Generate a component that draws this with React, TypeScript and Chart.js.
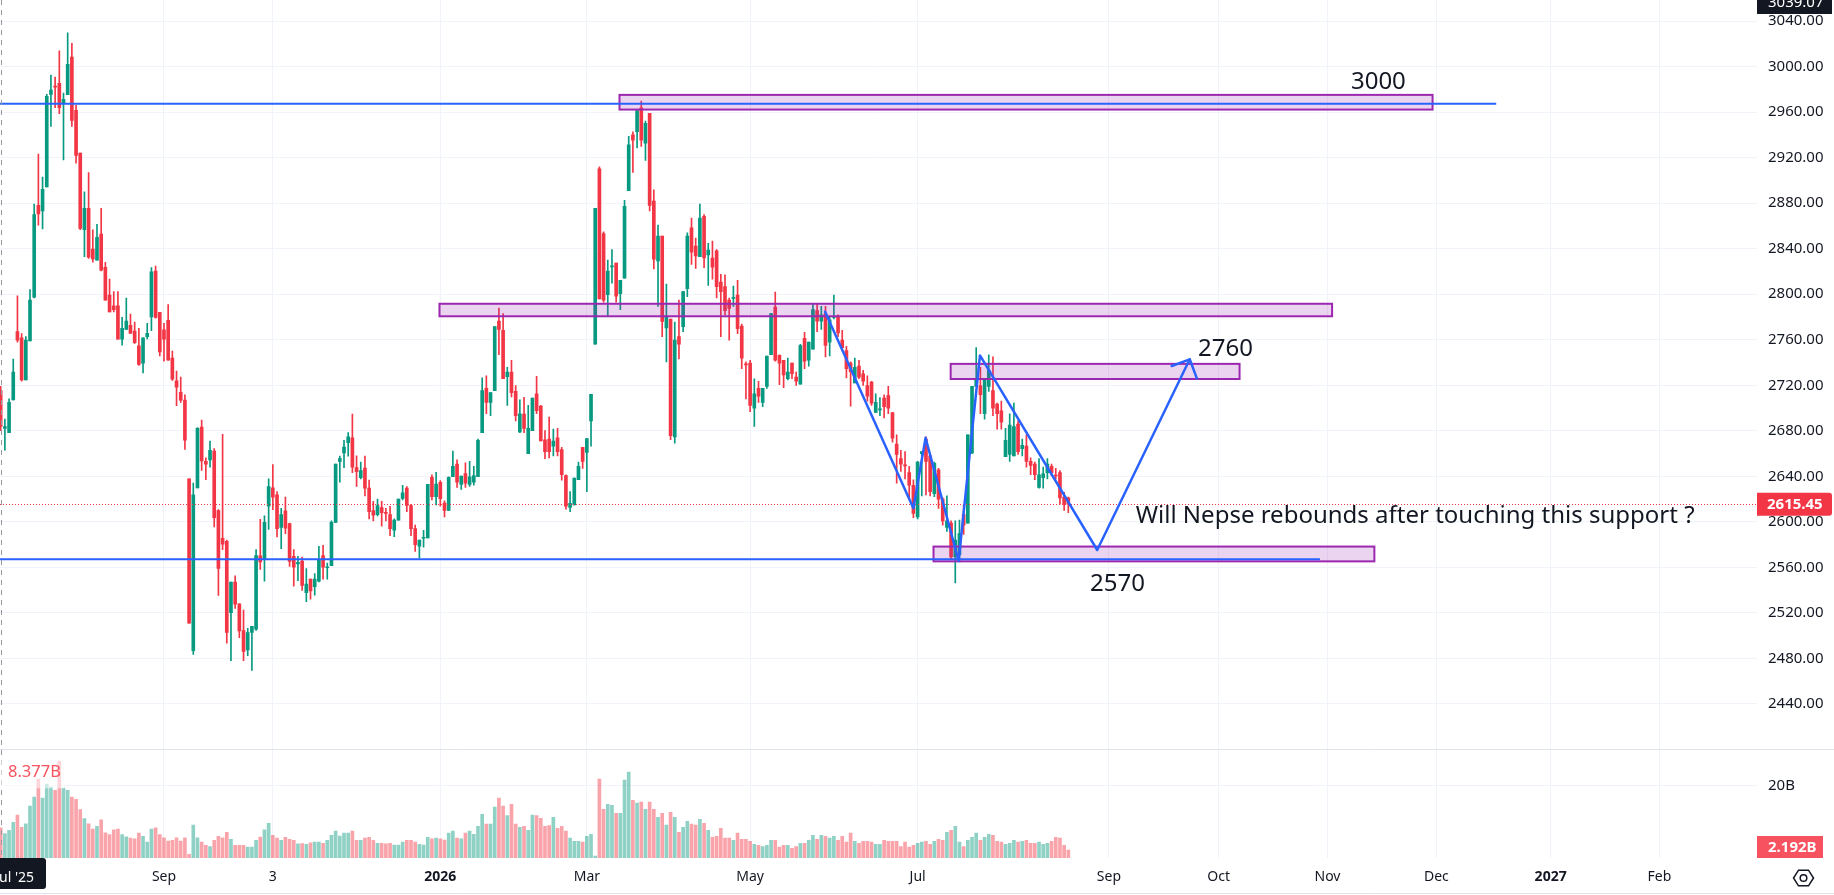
import React, { useEffect, useRef } from 'react';
import { Chart, registerables } from 'chart.js';

Chart.register(...registerables);

// ---- Daily candles (NEPSE) ----
const opens = [
  2715.3, 2682.1, 2678.4, 2707.2, 2767.1, 2761.6, 2724.6, 2759.0, 2797.4, 2878.0,
  2873.2, 2894.3, 2975.6, 2982.7, 2985.2, 2967.5, 2975.3, 3008.2, 2961.6, 2923.9,
  2856.6, 2875.4, 2839.6, 2830.0, 2852.9, 2823.7, 2799.3, 2789.7, 2789.7, 2760.5,
  2769.0, 2772.7, 2767.5, 2754.6, 2739.4, 2762.7, 2780.1, 2820.4, 2784.1, 2768.6,
  2777.1, 2743.8, 2723.9, 2713.9, 2706.9, 2637.7, 2486.9, 2629.9, 2683.2, 2653.2,
  2654.4, 2662.1, 2610.0, 2585.6, 2583.0, 2520.2, 2547.2, 2527.9, 2504.6, 2487.6,
  2502.8, 2505.7, 2570.1, 2566.7, 2613.7, 2629.9, 2623.7, 2595.2, 2609.6, 2598.5,
  2569.7, 2563.0, 2565.6, 2537.9, 2549.7, 2543.1, 2547.9, 2570.4, 2559.7, 2561.6,
  2599.6, 2653.2, 2660.6, 2669.5, 2673.9, 2647.7, 2638.8, 2647.3, 2629.6, 2610.0,
  2606.3, 2612.6, 2608.1, 2606.3, 2592.6, 2601.5, 2620.7, 2629.6, 2614.4, 2594.1,
  2578.6, 2585.6, 2585.9, 2639.2, 2622.2, 2634.8, 2616.6, 2610.0, 2639.6, 2650.7,
  2632.9, 2642.5, 2632.9, 2634.8, 2639.6, 2678.4, 2717.2, 2705.0, 2715.3, 2776.4,
  2768.2, 2727.6, 2731.6, 2714.6, 2679.1, 2694.7, 2659.9, 2680.2, 2712.4, 2701.7,
  2672.1, 2672.8, 2666.6, 2673.9, 2663.6, 2640.7, 2612.6, 2614.8, 2637.0, 2665.4,
  2661.0, 2688.7, 2756.0, 2910.2, 2853.2, 2799.6, 2824.0, 2827.4, 2800.4, 2814.0,
  2891.0, 2940.1, 2942.7, 2963.8, 2932.7, 2959.0, 2881.7, 2829.2, 2851.0, 2770.4,
  2778.2, 2674.7, 2762.7, 2771.5, 2804.8, 2858.4, 2842.2, 2832.9, 2868.4, 2834.4,
  2831.8, 2838.1, 2810.7, 2806.7, 2794.8, 2796.3, 2799.3, 2771.9, 2738.6, 2739.4,
  2699.8, 2717.2, 2705.0, 2719.0, 2746.8, 2788.6, 2746.4, 2742.0, 2725.7, 2739.4,
  2727.2, 2720.9, 2761.2, 2742.0, 2751.6, 2785.6, 2776.4, 2783.0, 2757.9, 2779.7,
  2780.1, 2759.7, 2750.5, 2739.4, 2722.0, 2736.8, 2730.1, 2719.8, 2722.8, 2696.1,
  2698.4, 2708.7, 2710.9, 2696.1, 2668.4, 2655.5, 2649.9, 2643.3, 2632.2, 2604.4,
  2659.9, 2672.8, 2658.0, 2624.8, 2645.8, 2620.0, 2595.2, 2598.9, 2569.3, 2571.2,
  2606.3, 2598.9, 2660.6, 2719.0, 2719.8, 2695.0, 2719.0, 2715.3, 2703.5, 2697.6,
  2657.3, 2659.2, 2658.0, 2685.8, 2664.3, 2666.6, 2653.2, 2650.7, 2630.3, 2638.8,
  2643.3, 2648.8, 2641.0, 2643.3, 2621.8, 2621.1,
];
const highs = [
  2719.0, 2690.2, 2708.0, 2743.1, 2798.5, 2765.3, 2762.7, 2804.1, 2879.1, 2923.1,
  2902.8, 2975.6, 2992.6, 2990.8, 3013.7, 2976.7, 3029.6, 3020.4, 2966.0, 2923.9,
  2889.9, 2906.9, 2856.6, 2861.4, 2875.4, 2828.1, 2813.3, 2802.2, 2802.2, 2779.7,
  2796.7, 2782.6, 2775.6, 2770.1, 2761.6, 2774.5, 2823.3, 2824.8, 2784.1, 2774.5,
  2790.8, 2750.1, 2732.4, 2727.2, 2711.7, 2637.7, 2634.0, 2682.8, 2689.5, 2656.2,
  2671.0, 2664.3, 2610.7, 2676.9, 2584.1, 2547.2, 2552.7, 2527.9, 2522.4, 2506.5,
  2508.3, 2575.6, 2602.2, 2605.2, 2637.7, 2650.3, 2626.6, 2611.8, 2621.8, 2598.9,
  2575.6, 2569.7, 2569.0, 2559.0, 2549.7, 2554.5, 2578.6, 2579.3, 2563.8, 2600.8,
  2650.7, 2657.7, 2671.7, 2678.4, 2694.7, 2658.0, 2652.5, 2657.7, 2636.6, 2618.1,
  2620.0, 2618.1, 2611.8, 2613.7, 2602.6, 2620.0, 2632.2, 2631.1, 2615.5, 2597.1,
  2584.1, 2592.6, 2632.9, 2641.4, 2643.6, 2636.3, 2618.5, 2639.6, 2662.1, 2654.4,
  2640.3, 2651.8, 2653.2, 2648.8, 2672.8, 2726.5, 2728.3, 2713.5, 2771.5, 2787.8,
  2783.0, 2735.7, 2742.0, 2719.8, 2707.2, 2709.4, 2702.4, 2708.7, 2727.9, 2702.4,
  2680.2, 2692.1, 2681.4, 2682.1, 2665.4, 2641.4, 2626.6, 2638.5, 2652.5, 2665.4,
  2673.2, 2712.0, 2875.4, 2912.0, 2854.7, 2830.0, 2839.2, 2827.4, 2812.2, 2882.4,
  2938.6, 2942.7, 2961.2, 2969.7, 2952.0, 2959.0, 2891.7, 2860.7, 2851.0, 2808.9,
  2778.2, 2775.6, 2794.8, 2802.2, 2854.0, 2866.9, 2849.2, 2879.1, 2869.9, 2844.7,
  2846.6, 2839.2, 2817.4, 2817.0, 2796.7, 2807.1, 2812.2, 2773.8, 2740.5, 2742.0,
  2725.7, 2723.5, 2717.2, 2745.7, 2783.0, 2801.9, 2746.8, 2742.0, 2743.8, 2739.4,
  2731.6, 2756.0, 2766.4, 2757.9, 2791.1, 2791.1, 2789.3, 2789.3, 2780.1, 2799.3,
  2781.9, 2768.2, 2754.2, 2740.5, 2743.8, 2742.0, 2733.1, 2728.3, 2723.5, 2712.4,
  2709.1, 2711.7, 2719.0, 2696.1, 2676.5, 2662.9, 2661.7, 2648.8, 2637.0, 2653.2,
  2661.7, 2674.7, 2659.9, 2652.5, 2647.0, 2621.1, 2622.9, 2600.8, 2600.8, 2601.5,
  2614.8, 2676.5, 2719.0, 2753.1, 2735.7, 2725.7, 2746.8, 2744.9, 2704.3, 2706.1,
  2682.1, 2695.0, 2704.3, 2688.7, 2672.8, 2676.5, 2656.2, 2652.5, 2655.5, 2648.1,
  2655.5, 2650.7, 2647.0, 2645.1, 2625.9, 2621.8,
];
const lows = [
  2680.2, 2662.9, 2678.4, 2707.2, 2757.9, 2723.5, 2724.6, 2759.0, 2796.7, 2860.7,
  2857.3, 2894.3, 2947.5, 2963.8, 2958.6, 2917.9, 2975.3, 2947.5, 2915.0, 2856.6,
  2832.9, 2831.5, 2828.1, 2830.0, 2820.4, 2794.8, 2784.5, 2784.5, 2760.5, 2755.3,
  2769.0, 2765.6, 2756.8, 2737.5, 2730.9, 2760.8, 2767.9, 2779.0, 2745.7, 2741.2,
  2742.0, 2724.2, 2702.1, 2705.0, 2663.6, 2510.9, 2483.6, 2629.9, 2645.1, 2637.0,
  2648.1, 2595.6, 2535.3, 2575.6, 2493.5, 2478.0, 2523.9, 2498.3, 2478.0, 2482.4,
  2469.5, 2504.6, 2558.2, 2547.9, 2593.4, 2610.7, 2586.7, 2576.4, 2589.7, 2560.8,
  2543.4, 2548.3, 2539.7, 2529.8, 2532.0, 2535.7, 2547.2, 2549.7, 2549.7, 2561.6,
  2599.6, 2634.8, 2647.7, 2657.7, 2643.3, 2631.1, 2637.7, 2622.9, 2602.6, 2600.8,
  2605.2, 2596.3, 2600.8, 2587.8, 2587.1, 2601.5, 2619.2, 2608.9, 2587.8, 2574.1,
  2568.2, 2577.8, 2585.9, 2619.2, 2614.8, 2613.7, 2604.4, 2610.0, 2639.6, 2630.3,
  2628.5, 2630.3, 2631.1, 2632.2, 2639.6, 2678.4, 2695.0, 2693.2, 2715.3, 2746.8,
  2725.7, 2702.4, 2709.8, 2688.7, 2678.4, 2678.4, 2659.9, 2680.2, 2695.0, 2671.0,
  2655.5, 2656.2, 2658.0, 2658.0, 2636.6, 2611.1, 2608.9, 2614.8, 2637.0, 2647.0,
  2626.6, 2666.6, 2756.0, 2795.9, 2793.0, 2781.2, 2809.6, 2793.0, 2786.4, 2814.0,
  2891.0, 2906.9, 2928.6, 2929.8, 2917.6, 2873.2, 2822.2, 2789.3, 2762.7, 2740.5,
  2672.1, 2669.1, 2743.1, 2767.1, 2797.8, 2826.2, 2822.6, 2832.9, 2823.3, 2807.8,
  2813.3, 2796.7, 2762.7, 2781.9, 2759.7, 2789.3, 2765.3, 2734.6, 2708.0, 2696.9,
  2683.9, 2705.0, 2701.3, 2717.2, 2746.8, 2741.2, 2720.5, 2717.9, 2724.6, 2725.7,
  2719.8, 2720.9, 2734.6, 2736.8, 2751.6, 2767.1, 2769.0, 2744.9, 2745.7, 2778.2,
  2762.7, 2752.3, 2726.5, 2701.7, 2722.0, 2725.7, 2719.8, 2706.1, 2702.4, 2696.1,
  2693.2, 2691.3, 2695.0, 2669.9, 2634.0, 2644.4, 2637.7, 2621.1, 2603.7, 2602.6,
  2622.9, 2623.7, 2622.9, 2622.2, 2611.8, 2597.1, 2591.5, 2566.7, 2546.4, 2564.9,
  2588.9, 2598.9, 2659.9, 2719.0, 2695.0, 2690.2, 2714.6, 2693.2, 2681.4, 2681.4,
  2657.3, 2653.2, 2658.0, 2659.2, 2658.0, 2648.1, 2641.4, 2637.0, 2629.6, 2629.6,
  2637.7, 2640.7, 2637.7, 2615.5, 2610.0, 2608.1,
];
const closes = [
  2683.9, 2683.6, 2705.0, 2731.6, 2759.7, 2724.6, 2759.7, 2794.8, 2869.9, 2870.6,
  2892.1, 2973.8, 2979.3, 2981.9, 2963.8, 2971.2, 3001.9, 2952.7, 2922.0, 2857.7,
  2875.4, 2832.6, 2831.1, 2849.9, 2821.1, 2794.8, 2784.5, 2786.4, 2760.5, 2770.1,
  2776.4, 2765.6, 2757.5, 2738.3, 2761.6, 2765.6, 2819.6, 2779.7, 2749.4, 2760.5,
  2742.0, 2725.4, 2718.3, 2706.9, 2671.7, 2510.9, 2623.7, 2682.1, 2653.6, 2650.7,
  2662.9, 2603.7, 2559.0, 2580.4, 2502.8, 2547.2, 2527.6, 2504.3, 2486.2, 2502.8,
  2508.3, 2570.4, 2564.9, 2599.6, 2631.1, 2621.8, 2594.1, 2606.3, 2594.5, 2565.3,
  2560.1, 2564.5, 2544.2, 2545.3, 2539.4, 2549.7, 2566.4, 2560.1, 2560.4, 2599.6,
  2650.7, 2655.5, 2665.8, 2674.7, 2648.1, 2644.0, 2645.1, 2629.6, 2608.9, 2605.9,
  2614.4, 2608.1, 2607.4, 2594.1, 2601.5, 2620.0, 2625.5, 2614.4, 2594.1, 2580.0,
  2584.1, 2586.3, 2632.9, 2622.2, 2633.3, 2620.4, 2610.0, 2639.2, 2648.8, 2634.8,
  2640.3, 2634.0, 2639.6, 2640.7, 2671.7, 2715.3, 2705.0, 2713.5, 2771.5, 2769.0,
  2725.7, 2731.6, 2713.5, 2693.2, 2695.0, 2682.1, 2682.1, 2708.7, 2697.6, 2671.0,
  2661.7, 2661.7, 2671.0, 2661.7, 2641.4, 2613.7, 2616.3, 2638.5, 2648.8, 2653.2,
  2673.2, 2712.0, 2875.4, 2795.9, 2794.8, 2820.4, 2824.8, 2798.2, 2812.2, 2877.3,
  2931.2, 2935.3, 2961.2, 2935.3, 2950.1, 2878.0, 2830.7, 2851.0, 2776.0, 2780.8,
  2675.8, 2759.7, 2756.0, 2802.2, 2851.0, 2837.0, 2833.7, 2866.9, 2831.8, 2838.8,
  2823.7, 2806.7, 2802.2, 2785.6, 2787.4, 2797.0, 2769.7, 2743.8, 2737.9, 2702.4,
  2712.4, 2710.5, 2717.2, 2745.7, 2783.0, 2742.0, 2739.4, 2729.0, 2731.6, 2730.1,
  2723.5, 2754.9, 2741.2, 2757.9, 2786.4, 2776.4, 2781.9, 2754.9, 2777.5, 2780.4,
  2766.0, 2753.1, 2734.6, 2732.0, 2735.7, 2727.2, 2723.5, 2710.5, 2704.3, 2705.0,
  2699.1, 2701.3, 2699.8, 2673.6, 2659.2, 2650.7, 2649.2, 2632.2, 2607.4, 2652.5,
  2661.7, 2653.2, 2626.6, 2651.4, 2620.0, 2600.8, 2600.8, 2569.3, 2584.1, 2589.6,
  2597.1, 2676.5, 2719.0, 2724.6, 2711.7, 2725.7, 2733.1, 2699.8, 2695.0, 2687.6,
  2671.7, 2685.0, 2683.6, 2661.7, 2667.3, 2653.2, 2649.6, 2641.4, 2641.4, 2642.1,
  2650.7, 2643.3, 2640.3, 2621.1, 2615.5, 2615.45,
];
// Volume in billions
const volumes = [
  8.377, 6.8, 7.7, 9.9, 11.9, 8.5, 9.5, 14.4, 16.9, 21.9,
  16.6, 20.5, 19.7, 18.8, 26.9, 19.4, 18.8, 16.9, 16.3, 13.4,
  10.9, 9.5, 8.0, 8.8, 10.6, 7.0, 6.5, 7.8, 8.0, 6.5,
  5.9, 5.5, 5.3, 6.9, 6.0, 4.4, 8.0, 8.4, 6.5, 5.6,
  4.7, 4.9, 5.6, 4.7, 5.6, 1.0, 9.1, 5.6, 4.4, 3.5,
  3.2, 4.9, 6.0, 5.6, 7.1, 5.2, 3.5, 3.5, 3.5, 3.0,
  3.0, 4.9, 5.8, 7.8, 9.6, 6.3, 5.5, 4.9, 5.7, 5.2,
  4.9, 3.9, 4.0, 3.8, 4.2, 4.4, 4.4, 4.1, 4.9, 6.3,
  7.5, 6.1, 6.9, 6.9, 7.5, 4.9, 4.9, 5.5, 5.7, 4.9,
  4.1, 4.1, 3.9, 4.1, 3.6, 3.6, 4.4, 4.9, 4.9, 4.4,
  3.8, 3.6, 5.7, 5.3, 5.5, 5.3, 5.0, 6.9, 7.5, 5.5,
  5.3, 6.9, 7.5, 6.6, 8.8, 12.1, 9.4, 9.4, 14.1, 16.6,
  14.4, 11.8, 14.9, 9.4, 8.5, 8.8, 7.7, 11.9, 11.8, 11.0,
  8.8, 9.0, 11.3, 8.2, 8.8, 7.5, 5.5, 4.6, 4.6, 4.4,
  6.0, 6.6, 0.5, 21.9, 13.5, 14.9, 14.6, 12.4, 12.4, 21.6,
  23.8, 16.0, 15.2, 15.5, 13.5, 15.5, 13.5, 11.3, 12.4, 9.1,
  12.7, 11.3, 7.1, 8.5, 10.2, 9.4, 9.1, 10.7, 9.6, 7.7,
  5.7, 6.0, 8.2, 5.5, 5.5, 4.9, 6.9, 5.2, 5.2, 4.6,
  3.8, 3.5, 3.2, 3.5, 4.9, 4.9, 3.0, 3.5, 3.5, 2.7,
  3.2, 4.1, 4.1, 4.9, 6.3, 5.2, 6.3, 6.0, 5.5, 6.0,
  4.9, 6.0, 4.4, 6.9, 4.6, 4.1, 4.6, 4.6, 4.4, 3.8,
  3.8, 4.9, 4.6, 4.6, 4.6, 3.2, 4.4, 3.0, 3.5, 4.1,
  4.4, 4.6, 3.8, 4.6, 5.2, 4.9, 7.1, 7.7, 8.8, 4.4,
  3.2, 4.9, 5.7, 6.9, 4.9, 5.7, 6.6, 6.3, 4.6, 4.4,
  3.8, 4.1, 4.9, 4.4, 4.6, 4.9, 4.1, 4.1, 4.4, 3.8,
  4.1, 4.6, 5.7, 5.5, 3.5, 2.192,
];

// ---- Axis ticks ----
const priceTicks = [2440, 2480, 2520, 2560, 2600, 2640, 2680, 2720, 2760, 2800, 2840, 2880, 2920, 2960, 3000, 3040];
const volumeTicks = [20];
const timeTickBars = [39, 65, 105, 140, 179, 219, 264.7, 290.9, 316.9, 342.9, 370.2, 396.2];
const timeTickLabels = ['Sep', '3', '2026', 'Mar', 'May', 'Jul', 'Sep', 'Oct', 'Nov', 'Dec', '2027', 'Feb'];
const boldTimeLabels = ['2026', '2027'];

// ---- Drawings (bar index, price) ----
const hLinePrices = [2967.3, 2567.1];
const hLineEnds = [357.2, 315.1];
const boxLeft = [147.8, 104.8, 226.9, 222.8];
const boxRight = [342.0, 318.0, 295.9, 328.1];
const boxTop = [2975.1, 2791.6, 2738.8, 2578.3];
const boxBottom = [2962.2, 2780.6, 2725.5, 2565.3];
const zigBars = [196.9, 218.0, 220.9, 228.8, 233.9, 261.9, 284.0];
const zigPrices = [2784.6, 2612.0, 2673.8, 2565.8, 2746.2, 2575.3, 2742.8];
const arrowWingBars = [279.7, 285.7];
const arrowWingPrices = [2736.9, 2726.1];
const noteTexts = ['3000', '2760', '2570', 'Will Nepse rebounds after touching this support ?'];
const noteBars = [322.5, 286.0, 260.2, 271.1];
const notePrices = [2980.3, 2745.7, 2539.5, 2599.0];

const lastPrice = closes[closes.length - 1];
const lastVolume = volumes[volumes.length - 1];

const FONT = '"Noto Sans", "DejaVu Sans", sans-serif';
const UP = '#089981';
const DOWN = '#f23645';
const UP_VOL = 'rgba(8,153,129,0.45)';
const DOWN_VOL = 'rgba(242,54,69,0.45)';
const GRID = '#f0f3fa';
const TEXT = '#131722';
const BLUE = '#2962ff';
const PURPLE = '#9c27b0';

const W = 1834;
const H = 895;
const AXIS_W = 77;
const TIME_H = 37;

const isUp = (i: number) => closes[i] >= opens[i];

const zeroPadding = (s: any) => {
  s.paddingTop = 0;
  s.paddingBottom = 0;
  s.paddingLeft = 0;
  s.paddingRight = 0;
};

const overlayPlugin = {
  id: 'tvOverlay',
  beforeDraw(chart: any) {
    const { ctx } = chart;
    ctx.save();
    ctx.fillStyle = '#ffffff';
    ctx.fillRect(0, 0, chart.width, chart.height);
    ctx.restore();
  },
  afterDatasetsDraw(chart: any) {
    const { ctx, chartArea } = chart;
    const xs = chart.scales.x;
    const ys = chart.scales.y;
    const X = (v: number) => xs.getPixelForValue(v);
    const Y = (v: number) => ys.getPixelForValue(v);
    ctx.save();
    ctx.beginPath();
    ctx.rect(chartArea.left, ys.top, chartArea.right - chartArea.left, ys.bottom - ys.top);
    ctx.clip();

    // rectangles
    for (let i = 0; i < boxLeft.length; i++) {
      const x1 = X(boxLeft[i]);
      const x2 = X(boxRight[i]);
      const y1 = Y(boxTop[i]);
      const y2 = Y(boxBottom[i]);
      ctx.fillStyle = 'rgba(156,39,176,0.2)';
      ctx.fillRect(x1, y1, x2 - x1, y2 - y1);
      ctx.strokeStyle = PURPLE;
      ctx.lineWidth = 2;
      ctx.strokeRect(x1, y1, x2 - x1, y2 - y1);
    }

    // horizontal levels
    ctx.strokeStyle = BLUE;
    ctx.lineWidth = 2;
    for (let i = 0; i < hLinePrices.length; i++) {
      const y = Y(hLinePrices[i]);
      ctx.beginPath();
      ctx.moveTo(chartArea.left - 2, y);
      ctx.lineTo(X(hLineEnds[i]), y);
      ctx.stroke();
    }

    // last price dotted line
    const ly = Math.round(Y(lastPrice)) + 0.5;
    ctx.save();
    ctx.strokeStyle = DOWN;
    ctx.lineWidth = 1;
    ctx.setLineDash([1, 2]);
    ctx.beginPath();
    ctx.moveTo(chartArea.left, ly);
    ctx.lineTo(chartArea.right, ly);
    ctx.stroke();
    ctx.restore();

    // zigzag path
    ctx.strokeStyle = BLUE;
    ctx.lineWidth = 2.5;
    ctx.lineJoin = 'round';
    ctx.lineCap = 'round';
    ctx.beginPath();
    for (let i = 0; i < zigBars.length; i++) {
      const px = X(zigBars[i]);
      const py = Y(zigPrices[i]);
      if (i === 0) ctx.moveTo(px, py);
      else ctx.lineTo(px, py);
    }
    ctx.stroke();
    const tipX = X(zigBars[zigBars.length - 1]);
    const tipY = Y(zigPrices[zigPrices.length - 1]);
    ctx.beginPath();
    ctx.moveTo(X(arrowWingBars[0]), Y(arrowWingPrices[0]));
    ctx.lineTo(tipX, tipY);
    ctx.lineTo(X(arrowWingBars[1]), Y(arrowWingPrices[1]));
    ctx.stroke();

    // notes
    ctx.fillStyle = TEXT;
    ctx.textAlign = 'left';
    ctx.textBaseline = 'alphabetic';
    ctx.font = `24px ${FONT}`;
    for (let i = 0; i < noteTexts.length; i++) {
      ctx.fillText(noteTexts[i], X(noteBars[i]), Y(notePrices[i]));
    }
    ctx.restore();
  },
  afterDraw(chart: any) {
    const { ctx, chartArea } = chart;
    const xs = chart.scales.x;
    const ys = chart.scales.y;
    const yv = chart.scales.yv;
    ctx.save();

    // pane divider and bottom edge
    ctx.strokeStyle = '#e0e3eb';
    ctx.lineWidth = 1;
    ctx.beginPath();
    ctx.moveTo(0, Math.round(ys.bottom) + 0.5);
    ctx.lineTo(chart.width, Math.round(ys.bottom) + 0.5);
    ctx.stroke();
    ctx.beginPath();
    ctx.moveTo(0, chart.height - 1.5);
    ctx.lineTo(chart.width, chart.height - 1.5);
    ctx.stroke();

    // crosshair
    const cx = Math.round(xs.getPixelForValue(0)) + 0.5;
    ctx.save();
    ctx.strokeStyle = '#9598a1';
    ctx.setLineDash([5, 5]);
    ctx.beginPath();
    ctx.moveTo(cx, 0);
    ctx.lineTo(cx, chartArea.bottom);
    ctx.stroke();
    ctx.restore();

    // volume legend value
    ctx.fillStyle = 'rgba(255,255,255,0.55)';
    ctx.fillRect(0, yv.top + 8, 64, 31);
    ctx.fillStyle = '#f7525f';
    ctx.font = `16.5px ${FONT}`;
    ctx.textAlign = 'left';
    ctx.textBaseline = 'middle';
    ctx.fillText(`${volumes[0].toFixed(3)}B`, 8, yv.top + 23);

    const axX = chartArea.right;
    // top crosshair price label
    ctx.fillStyle = TEXT;
    ctx.fillRect(axX, -8, 75, 22);
    ctx.fillStyle = '#ffffff';
    ctx.font = `15px ${FONT}`;
    ctx.textAlign = 'left';
    ctx.textBaseline = 'middle';
    ctx.fillText('3039.07', axX + 11, 3);

    // last price label
    const lpY = ys.getPixelForValue(lastPrice);
    ctx.fillStyle = DOWN;
    ctx.beginPath();
    ctx.roundRect(axX, lpY - 11.5, 75, 23, [0, 3, 3, 0]);
    ctx.fill();
    ctx.fillStyle = '#ffffff';
    ctx.font = `bold 15px ${FONT}`;
    ctx.fillText(lastPrice.toFixed(2), axX + 10, lpY + 0.5);

    // last volume label
    const lvY = Math.min(yv.getPixelForValue(lastVolume), yv.bottom - 11);
    ctx.fillStyle = '#f7525f';
    ctx.fillRect(axX, lvY - 11, 66, 22);
    ctx.fillStyle = '#ffffff';
    ctx.font = `bold 15px ${FONT}`;
    ctx.fillText(`${lastVolume.toFixed(3)}B`, axX + 11, lvY + 0.5);

    // crosshair time label
    ctx.fillStyle = TEXT;
    ctx.beginPath();
    ctx.roundRect(-17, chartArea.bottom, 63, 31, 3);
    ctx.fill();
    ctx.fillStyle = '#ffffff';
    ctx.font = `14px ${FONT}`;
    ctx.textAlign = 'center';
    ctx.fillText("Jul '25", 14.6, chartArea.bottom + 20);

    // settings icon
    const ix = 1803.5;
    const iy = 878;
    ctx.strokeStyle = TEXT;
    ctx.lineWidth = 1.5;
    ctx.beginPath();
    for (let k = 0; k < 6; k++) {
      const a = (Math.PI / 3) * k;
      const px = ix + 10 * Math.cos(a);
      const py = iy + 9 * Math.sin(a);
      if (k === 0) ctx.moveTo(px, py);
      else ctx.lineTo(px, py);
    }
    ctx.closePath();
    ctx.stroke();
    ctx.beginPath();
    ctx.arc(ix, iy, 3.3, 0, Math.PI * 2);
    ctx.stroke();

    ctx.restore();
  },
};

export default function App() {
  const canvasRef = useRef<HTMLCanvasElement | null>(null);

  useEffect(() => {
    const canvas = canvasRef.current;
    if (!canvas) return;
    const idx = closes.map((_, i) => i);

    const chart = new Chart(canvas, {
      type: 'bar',
      data: {
        datasets: [
          {
            label: 'bodies',
            data: idx.map((i) => ({ x: i, y: [opens[i], closes[i]] })) as any,
            backgroundColor: (c: any) => (isUp(c.dataIndex) ? UP : DOWN),
            barThickness: 3,
            minBarLength: 1,
            grouped: false,
            borderWidth: 0,
            borderSkipped: false,
            xAxisID: 'x',
            yAxisID: 'y',
            order: 0,
          } as any,
          {
            label: 'wicks',
            data: idx.map((i) => ({ x: i, y: [lows[i], highs[i]] })) as any,
            backgroundColor: (c: any) => (isUp(c.dataIndex) ? UP : DOWN),
            barThickness: 1,
            minBarLength: 1,
            grouped: false,
            borderWidth: 0,
            borderSkipped: false,
            xAxisID: 'x',
            yAxisID: 'y',
            order: 1,
          } as any,
          {
            label: 'volume',
            data: idx.map((i) => ({ x: i, y: volumes[i] })) as any,
            backgroundColor: (c: any) => (isUp(c.dataIndex) ? UP_VOL : DOWN_VOL),
            barThickness: 3,
            grouped: false,
            borderWidth: 0,
            xAxisID: 'x',
            yAxisID: 'yv',
            order: 2,
          } as any,
        ],
      },
      options: {
        animation: false,
        responsive: false,
        maintainAspectRatio: false,
        events: [],
        layout: { padding: 0 },
        plugins: {
          legend: { display: false },
          tooltip: { enabled: false },
        },
        scales: {
          x: {
            type: 'linear',
            min: -0.167,
            max: 419.49,
            offset: false,
            grid: { color: GRID, drawTicks: false, offset: false },
            border: { display: false },
            ticks: {
              autoSkip: false,
              maxRotation: 0,
              padding: 11,
              color: TEXT,
              font: (c: any) => ({
                family: FONT,
                size: 14,
                weight: boldTimeLabels.includes(timeTickLabels[c.index]) ? 'bold' : 'normal',
              }),
              callback: (_v: any, i: number) => timeTickLabels[i],
            },
            afterBuildTicks: (s: any) => {
              s.ticks = timeTickBars.map((v) => ({ value: v }));
            },
            afterFit: (s: any) => {
              s.height = TIME_H;
              zeroPadding(s);
            },
          },
          y: {
            type: 'linear',
            position: 'right',
            stack: 'panes',
            stackWeight: 749.3,
            min: 2400.2,
            max: 3058.45,
            grid: { color: GRID, drawTicks: false },
            border: { display: false },
            ticks: {
              padding: 11,
              color: TEXT,
              font: { family: FONT, size: 15 },
              callback: (v: any) => Number(v).toFixed(2),
            },
            afterBuildTicks: (s: any) => {
              s.ticks = priceTicks.map((v) => ({ value: v }));
            },
            afterFit: (s: any) => {
              s.width = AXIS_W;
              zeroPadding(s);
            },
          },
          yv: {
            type: 'linear',
            position: 'right',
            stack: 'panes',
            stackWeight: 108.7,
            min: 0,
            max: 30.15,
            grid: { color: GRID, drawTicks: false },
            border: { display: false },
            ticks: {
              padding: 11,
              color: TEXT,
              font: { family: FONT, size: 15 },
              callback: (v: any) => `${v}B`,
            },
            afterBuildTicks: (s: any) => {
              s.ticks = volumeTicks.map((v) => ({ value: v }));
            },
            afterFit: (s: any) => {
              s.width = AXIS_W;
              zeroPadding(s);
            },
          },
        } as any,
      },
      plugins: [overlayPlugin],
    });

    return () => {
      chart.destroy();
    };
  }, []);

  return (
    <div
      style={{
        position: 'fixed',
        left: 0,
        top: 0,
        width: W,
        height: H,
        background: '#ffffff',
        overflow: 'hidden',
      }}
    >
      <canvas ref={canvasRef} width={W} height={H} style={{ width: W, height: H, display: 'block' }} />
    </div>
  );
}
